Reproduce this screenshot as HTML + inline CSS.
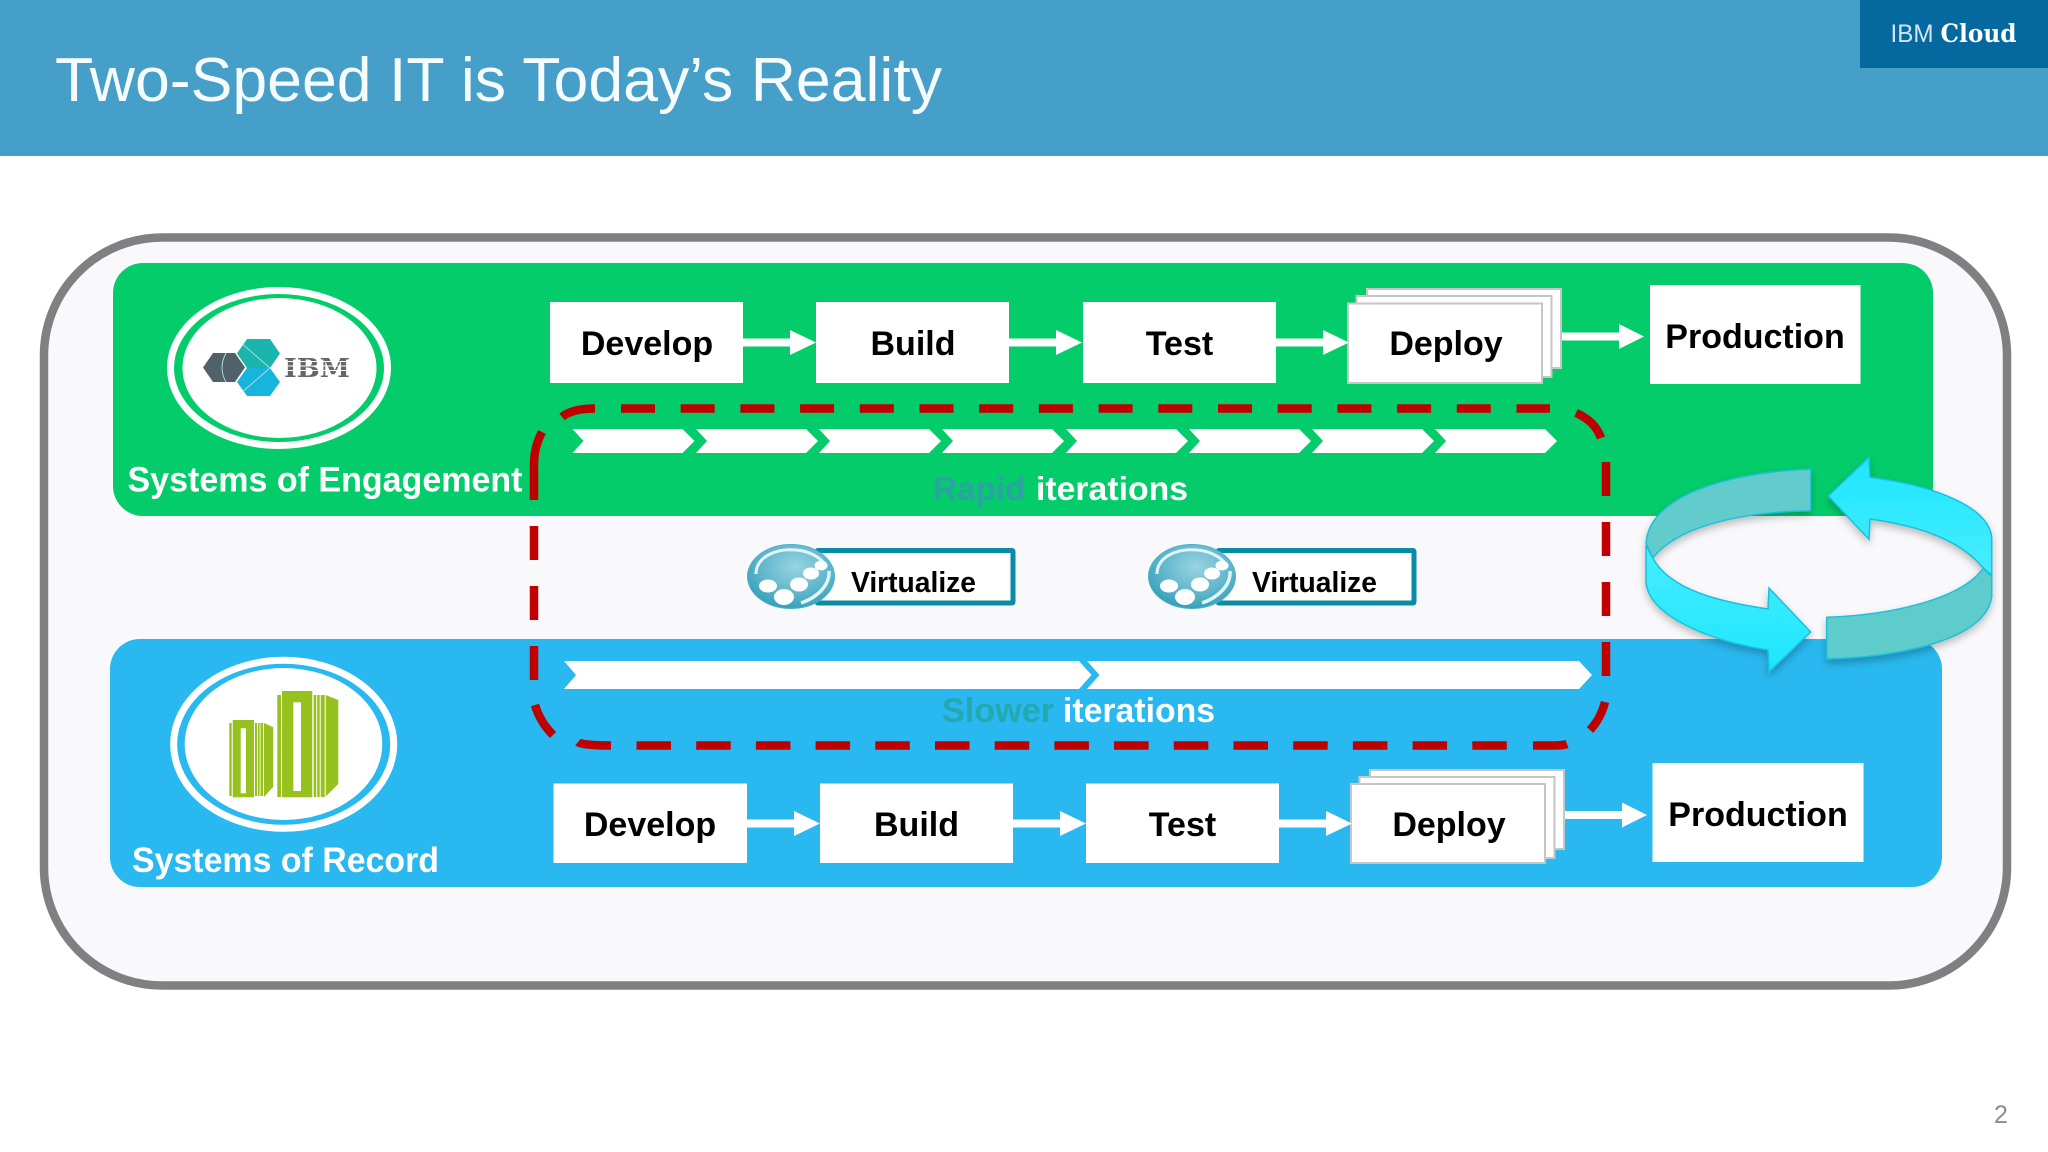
<!DOCTYPE html>
<html><head><meta charset="utf-8"><title>Two-Speed IT</title>
<style>html,body{margin:0;padding:0;background:#fff}svg{display:block}text{font-family:"Liberation Sans",sans-serif}</style></head>
<body>
<svg xmlns="http://www.w3.org/2000/svg" width="2048" height="1152" viewBox="0 0 2048 1152">
<defs>
<filter id="sh" x="-10%" y="-10%" width="120%" height="125%"><feDropShadow dx="0" dy="4" stdDeviation="4" flood-color="#000" flood-opacity=".25"/></filter>
<radialGradient id="orb" cx=".55" cy=".35" r=".7"><stop offset="0" stop-color="#9ad4e0"/><stop offset=".6" stop-color="#5cb5cb"/><stop offset="1" stop-color="#2e9cb8"/></radialGradient>
<linearGradient id="cy1" x1="0" y1="0" x2="0" y2="1"><stop offset="0" stop-color="#1ce6ff"/><stop offset="1" stop-color="#48edff"/></linearGradient>
<linearGradient id="cy2" x1="0" y1="0" x2="0" y2="1"><stop offset="0" stop-color="#48edff"/><stop offset="1" stop-color="#1ce6ff"/></linearGradient>
<g id="virt">
<rect x="817" y="550.5" width="196" height="52.5" fill="#fff" stroke="#0a8ca5" stroke-width="5" rx="1"/>
<ellipse cx="791" cy="576.5" rx="43.5" ry="32" fill="url(#orb)" stroke="#4fb0c6" stroke-width="1"/>
<path d="M756 574C756 557 776 548 796 550C808 551 818 556 824 563" fill="none" stroke="#e2f4f8" stroke-width="3"/>
<path d="M829 571C830 586 816 598 801 603" fill="none" stroke="#e2f4f8" stroke-width="3.5"/>
<ellipse cx="768" cy="586" rx="9" ry="6.5" fill="#fff"/>
<ellipse cx="784" cy="597" rx="10" ry="8" fill="#fff"/>
<ellipse cx="799" cy="584.5" rx="9" ry="7" fill="#fff"/>
<ellipse cx="811" cy="573.5" rx="8" ry="6" fill="#fff"/>
<ellipse cx="821" cy="565.5" rx="6.5" ry="5" fill="#fff"/>
</g>
<path id="arrow" d="M0 -4H47V-12.5L73 0L47 12.5V4H0Z" fill="#fff"/>
<path id="parrow" d="M0 -4H57V-12.5L82 0L57 12.5V4H0Z" fill="#fff"/>
<path id="chev" d="M0 0H110L122 12L110 24H0L11 12Z" fill="#fff"/>
</defs>

<!-- header -->
<rect width="2048" height="156" fill="#459fc8"/>
<rect x="1860" width="188" height="68" fill="#05689f"/>
<text x="55" y="101" font-size="62.4" fill="#f6fbfd" textLength="887" lengthAdjust="spacingAndGlyphs">Two-Speed IT is Today’s Reality</text>
<text x="1890.5" y="42" font-size="25" fill="#cfe6f2" textLength="43" lengthAdjust="spacingAndGlyphs">IBM</text>
<text x="1940.5" y="42" font-size="25" font-weight="700" fill="#fff" style="font-family:'DejaVu Serif',serif" textLength="76" lengthAdjust="spacingAndGlyphs">Cloud</text>
<text x="1994" y="1123" font-size="25" fill="#8c8c8c">2</text>

<!-- outer frame -->
<rect x="44" y="237.5" width="1963" height="748" rx="118" ry="118" fill="#f9f9fb" stroke="#808083" stroke-width="8.5"/>

<!-- bands -->
<rect x="113" y="263" width="1820" height="253" rx="30" fill="#04cc6a"/>
<rect x="110" y="639" width="1832" height="248" rx="30" fill="#29b8ef"/>

<!-- top logo -->
<ellipse cx="279" cy="368" rx="108.5" ry="77.5" fill="none" stroke="#fff" stroke-width="7"/>
<ellipse cx="279.5" cy="368" rx="97" ry="70" fill="#fff"/>
<polygon points="203,367.5 213,353 235,353 245,367.5 235,382 213,382" fill="#4f626a"/>
<polygon points="237,353.5 247,339 270,339 280,353.5 270,368 247,368" fill="#1ab5ad"/>
<polygon points="237,382 247,368 270,368 280,382 270,396 247,396" fill="#17b4dc"/>
<path d="M226 353Q218 368 226 382M240 342L270 368L240 394" fill="none" stroke="#cfe9ec" stroke-width=".8"/>
<text x="284" y="377" font-size="26" font-weight="700" fill="#666" style="font-family:'DejaVu Serif',serif" textLength="66" lengthAdjust="spacingAndGlyphs">IBM</text>
<path d="M283 361.5H352M283 366H352M283 370.500H352" stroke="#fff" stroke-width="1"/>
<text x="127.500" y="491.500" font-size="35" font-weight="700" fill="#fff" textLength="395" lengthAdjust="spacingAndGlyphs">Systems of Engagement</text>

<!-- bottom logo -->
<ellipse cx="283.7" cy="744.3" rx="110" ry="84" fill="none" stroke="#fff" stroke-width="7"/>
<ellipse cx="283.5" cy="744" rx="98.8" ry="76" fill="#fff"/>
<g fill="#97c11f">
<rect x="229.3" y="723" width="2.4" height="73"/>
<rect x="232.7" y="720" width="21.3" height="77.3"/>
<rect x="255" y="723" width="2" height="73"/><rect x="258" y="723" width="1.6" height="73"/><rect x="260.5" y="723" width="2.5" height="73"/>
<polygon points="264,723 273.3,727.3 273.3,786.7 264,797"/>
<rect x="277.3" y="695" width="3.7" height="102"/>
<rect x="282" y="691" width="30.3" height="106.3"/>
<rect x="313.7" y="695" width="2.5" height="102"/><rect x="317.2" y="695" width="2.500" height="102"/><rect x="320.7" y="695" width="4" height="102"/>
<polygon points="325.7,695 338.3,700 338.3,784 325.7,796.5"/>
</g>
<rect x="240.7" y="728.3" width="5.3" height="65" fill="#fff"/>
<rect x="293.3" y="702.3" width="7.7" height="88.7" fill="#fff"/>
<text x="132" y="872" font-size="35" font-weight="700" fill="#fff" textLength="307" lengthAdjust="spacingAndGlyphs">Systems of Record</text>

<!-- top row -->
<g fill="#fff">
<rect x="550" y="302" width="193" height="81"/>
<rect x="816" y="302" width="193" height="81"/>
<rect x="1083" y="302" width="193" height="81"/>
<rect x="1650" y="285" width="210.5" height="99"/>
</g>
<g fill="#fff" stroke="#c6c6c6" stroke-width="2">
<rect x="1367" y="289" width="194" height="79"/>
<rect x="1356.5" y="296" width="195" height="81"/>
<rect x="1348" y="303.5" width="194" height="79.5"/>
</g>
<use href="#arrow" x="743" y="342.5"/>
<use href="#arrow" x="1009" y="342.5"/>
<use href="#arrow" x="1276" y="342.5"/>
<use href="#parrow" x="1562" y="336.5"/>
<g font-size="34" font-weight="700" fill="#000" text-anchor="middle">
<text x="647" y="355">Develop</text>
<text x="913" y="355">Build</text>
<text x="1179.5" y="355">Test</text>
<text x="1446" y="355">Deploy</text>
<text x="1755" y="348">Production</text>
</g>

<!-- bottom row -->
<g fill="#fff">
<rect x="553.5" y="783.500" width="193.5" height="79.500"/>
<rect x="820" y="783.500" width="193" height="79.500"/>
<rect x="1086" y="783.500" width="193" height="79.500"/>
<rect x="1652.5" y="763" width="211" height="99"/>
</g>
<g fill="#fff" stroke="#c6c6c6" stroke-width="2">
<rect x="1370" y="770" width="194" height="79"/>
<rect x="1359.5" y="777" width="195" height="81"/>
<rect x="1351" y="784" width="194" height="79"/>
</g>
<use href="#arrow" x="747" y="823.5"/>
<use href="#arrow" x="1013" y="823.5"/>
<use href="#arrow" x="1279" y="823.5"/>
<use href="#parrow" x="1565" y="815"/>
<g font-size="34" font-weight="700" fill="#000" text-anchor="middle">
<text x="650" y="836">Develop</text>
<text x="916.5" y="836">Build</text>
<text x="1182.5" y="836">Test</text>
<text x="1449" y="836">Deploy</text>
<text x="1758" y="826">Production</text>
</g>

<!-- top chevrons -->
<use href="#chev" x="572.5" y="429"/>
<use href="#chev" x="696" y="429"/>
<use href="#chev" x="819" y="429"/>
<use href="#chev" x="942" y="429"/>
<use href="#chev" x="1066" y="429"/>
<use href="#chev" x="1189" y="429"/>
<use href="#chev" x="1312" y="429"/>
<use href="#chev" x="1435" y="429"/>

<!-- bottom chevrons -->
<path d="M564 661H1079L1091.5 675L1079 689H564L576 675Z" fill="#fff"/>
<path d="M1087 661H1579L1592 675L1579 689H1087L1099.5 675Z" fill="#fff"/>

<!-- iteration labels -->
<text x="933" y="500" font-size="33.3" font-weight="700" fill="#2ba3a4">Rapid</text>
<text x="1036" y="500" font-size="33.3" font-weight="700" fill="#fff" textLength="152" lengthAdjust="spacingAndGlyphs">iterations</text>
<text x="942" y="722" font-size="34.5" font-weight="700" fill="#23a9ae" textLength="112" lengthAdjust="spacingAndGlyphs">Slower</text>
<text x="1063" y="722" font-size="34.5" font-weight="700" fill="#fff" textLength="152" lengthAdjust="spacingAndGlyphs">iterations</text>

<!-- virtualize -->
<use href="#virt"/>
<use href="#virt" x="401"/>
<text x="851" y="592" font-size="29" font-weight="700" fill="#000" textLength="125" lengthAdjust="spacingAndGlyphs">Virtualize</text>
<text x="1252" y="592" font-size="29" font-weight="700" fill="#000" textLength="125" lengthAdjust="spacingAndGlyphs">Virtualize</text>

<!-- red dashed rounded rect -->
<g fill="none" stroke="#c00000" stroke-width="8.5">
<path d="M562 417Q572 408.5 595 408.5"/>
<path d="M621 408.5H1550" stroke-dasharray="34 25.7"/>
<path d="M1576 413Q1595 421 1601 438"/>
<path d="M1606 462V676" stroke-dasharray="34 26"/>
<path d="M542 432Q534 447 534 465V500"/>
<path d="M534 526V680" stroke-dasharray="34 26"/>
<path d="M535 705Q540 722 553 735"/>
<path d="M578 742Q582 745.5 611 745.5"/>
<path d="M636.5 745.5H1507" stroke-dasharray="34.5 25.2"/>
<path d="M1533 745.5H1555Q1563 745.5 1567 744"/>
<path d="M1605 702Q1601 718 1590 730"/>
</g>

<!-- cycle arrows -->
<g filter="url(#sh)" stroke="#1cbfdc" stroke-width="1.5">
<path d="M1810.7 469.3C1745 471 1650 490 1646 543L1652.7 558C1675 530 1730 512 1810.7 510.7Z" fill="#62cccc"/>
<path d="M1826.7 617.3L1826.7 659C1900 657 1985 640 1991.7 597L1991.7 577L1983.3 568.3C1960 600 1890 615 1826.7 617.3Z" fill="#5fcccc"/>
<path d="M1646 545L1646 583C1650 615 1705 640 1768 650L1769 672L1810.7 632L1769 588L1768 609C1720 602 1670 590 1652.7 558Z" fill="url(#cy2)"/>
<path d="M1828.3 496L1869 457.3L1870 477.3C1930 485 1988 505 1991.7 537L1991.7 575L1983.3 568C1960 540 1920 526 1870 519L1869 539.3Z" fill="url(#cy1)"/>
</g>
</svg>
</body></html>
